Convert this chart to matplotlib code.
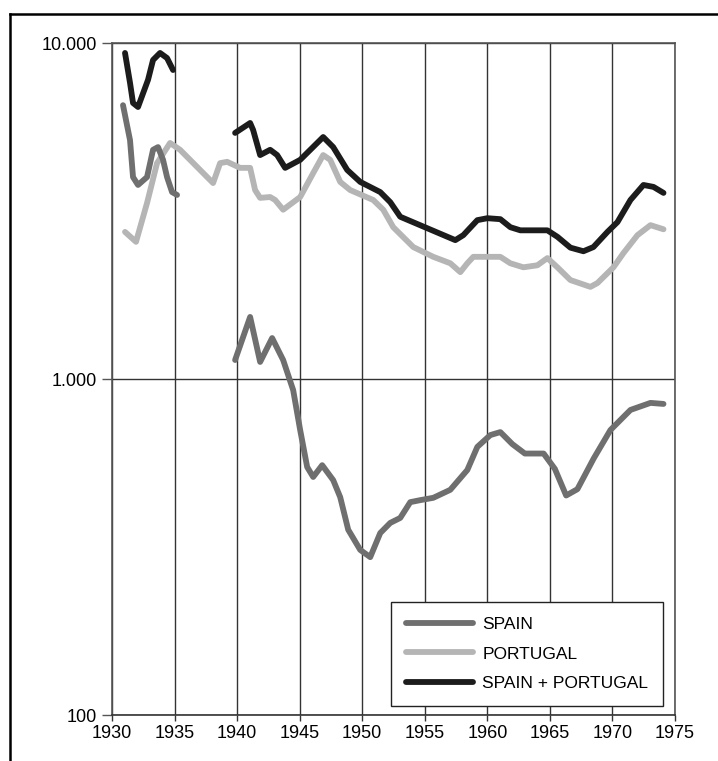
import matplotlib
matplotlib.use("Agg")
import matplotlib.pyplot as plt
from matplotlib.lines import Line2D
from matplotlib.ticker import FixedLocator, FixedFormatter, NullLocator

plt.rcParams['font.family'] = ['Liberation Sans Narrow', 'Liberation Sans', 'DejaVu Sans']

# Spain + Portugal, two stretches (early 1930s and 1940-1974)
total_years_a = [1931.04, 1931.44, 1931.68, 1932.08, 1932.88, 1933.28, 1933.84, 1934.4, 1934.88]
total_vals_a = [9340, 7610, 6630, 6450, 7770, 8900, 9340, 9020, 8310]
total_years_b = [1939.84, 1941.04, 1941.28, 1941.84, 1942.64, 1943.2, 1943.84, 1945.04,
                 1946.88, 1947.68, 1948.8, 1949.84, 1951.44, 1952.24, 1953.04, 1955.2,
                 1957.44, 1958.08, 1959.2, 1960.0, 1961.04, 1961.84, 1962.64, 1964.8,
                 1965.6, 1966.64, 1967.68, 1968.48, 1969.6, 1970.4, 1971.44, 1972.48,
                 1973.28, 1974.08]
total_vals_b = [5400, 5780, 5510, 4640, 4810, 4640, 4250, 4490,
                5250, 4900, 4190, 3860, 3600, 3360, 3040, 2810,
                2590, 2680, 2970, 3010, 2990, 2830, 2770, 2770,
                2650, 2460, 2400, 2470, 2740, 2930, 3410, 3780,
                3730, 3580]

# Portugal, continuous
port_years = [1931.04, 1931.92, 1932.8, 1933.6, 1934.64, 1935.44, 1937.04, 1938.08,
              1938.64, 1939.2, 1940.24, 1941.04, 1941.44, 1941.84, 1942.64, 1943.04,
              1943.68, 1945.04, 1946.08, 1946.88, 1947.44, 1948.24, 1949.04, 1950.88,
              1951.68, 1952.48, 1954.08, 1955.68, 1957.04, 1957.84, 1958.4, 1958.88,
              1960.24, 1961.04, 1961.84, 1962.88, 1964.0, 1964.8, 1965.6, 1966.64,
              1968.24, 1968.8, 1970.08, 1970.88, 1972.0, 1973.04, 1974.08]
port_vals = [2740, 2560, 3340, 4390, 5040, 4810, 4190, 3830,
             4390, 4430, 4250, 4250, 3650, 3460, 3480, 3410,
             3190, 3480, 4100, 4640, 4490, 3860, 3650, 3410,
             3190, 2830, 2470, 2310, 2210, 2080, 2210, 2310,
             2310, 2310, 2210, 2150, 2180, 2290, 2150, 1970,
             1880, 1930, 2150, 2370, 2680, 2870, 2790]

# Spain, two stretches
spain_years_a = [1930.88, 1931.44, 1931.68, 1932.08, 1932.8, 1933.28, 1933.68, 1934.08,
                 1934.4, 1934.8, 1935.2]
spain_vals_a = [6530, 5140, 3990, 3780, 3990, 4810, 4900, 4490, 3990, 3600, 3530]
spain_years_b = [1939.84, 1941.04, 1941.84, 1942.8, 1943.68, 1944.48, 1945.04, 1945.6,
                 1946.08, 1946.8, 1947.68, 1948.24, 1948.88, 1949.84, 1950.64, 1951.44,
                 1952.24, 1953.04, 1953.84, 1954.64, 1955.68, 1957.04, 1958.4, 1959.2,
                 1960.24, 1961.04, 1962.0, 1963.0, 1964.5, 1965.4, 1966.3, 1967.2,
                 1968.5, 1969.84, 1971.44, 1973.04, 1974.08]
spain_vals_b = [1139, 1530, 1124, 1324, 1139, 927, 705, 547,
                511, 554, 500, 445, 356, 310, 295, 348,
                373, 386, 430, 436, 443, 468, 536, 628,
                681, 695, 640, 600, 600, 540, 450, 470,
                580, 705, 809, 849, 843]

years_ticks = list(range(1930, 1976, 5))
y_ticks = [100, 1000, 10000]
y_labels = ['100', '1.000', '10.000']

c_spain = '#6f6f6f'
c_port = '#b5b5b5'
c_total = '#1c1c1c'

fig = plt.figure(figsize=(7.18, 7.61), dpi=100)
ax = fig.add_axes([112 / 718, 1 - 715 / 761, 563 / 718, 672 / 761])

kw = dict(lw=4.2, solid_capstyle='round', solid_joinstyle='round')
ax.plot(port_years, port_vals, color=c_port, label='PORTUGAL', **kw)
ax.plot(spain_years_a, spain_vals_a, color=c_spain, label='SPAIN', **kw)
ax.plot(spain_years_b, spain_vals_b, color=c_spain, **kw)
ax.plot(total_years_a, total_vals_a, color=c_total, label='SPAIN + PORTUGAL', **kw)
ax.plot(total_years_b, total_vals_b, color=c_total, **kw)

ax.set_yscale('log')
ax.set_xlim(1930, 1975)
ax.set_ylim(100, 10000)
ax.xaxis.set_major_locator(FixedLocator(years_ticks))
ax.yaxis.set_major_locator(FixedLocator(y_ticks))
ax.yaxis.set_major_formatter(FixedFormatter(y_labels))
ax.yaxis.set_minor_locator(NullLocator())

ax.grid(True, color='#333333', lw=1.0)
ax.set_axisbelow(True)
for s in ax.spines.values():
    s.set_color('#555555')
    s.set_linewidth(1.2)
ax.spines['bottom'].set_color('#333333')

ax.tick_params(axis='x', length=4, width=1, color='#333333', labelsize=13, pad=3)
ax.tick_params(axis='y', length=7, width=1, color='#555555', labelsize=13, pad=4)

# legend order: Spain, Portugal, total
handles, labels = ax.get_legend_handles_labels()
order = [1, 0, 2]
leg = ax.legend([handles[i] for i in order], [labels[i] for i in order],
                loc='lower right', bbox_to_anchor=(0.979, 0.0134), borderaxespad=0,
                fancybox=False, framealpha=1, edgecolor='#222222', fontsize=12.5,
                handlelength=3.85, handletextpad=0.57, labelspacing=0.84,
                borderpad=0.85)
leg.get_frame().set_linewidth(1.0)

# frame around the figure
fig.add_artist(Line2D([10 / 718, 1.0], [1 - 14 / 761, 1 - 14 / 761], color='black', lw=1.8))
fig.add_artist(Line2D([10 / 718, 10 / 718], [0, 1 - 14 / 761], color='black', lw=1.8))

fig.savefig('out.png', dpi=100)
